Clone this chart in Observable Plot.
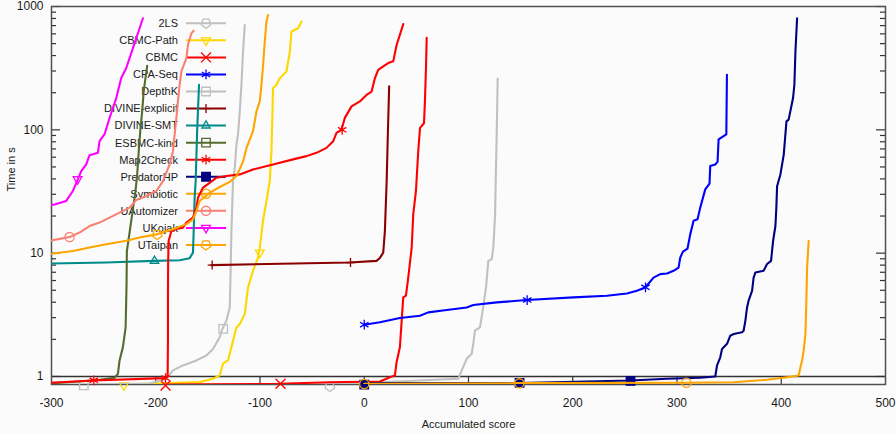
<!DOCTYPE html>
<html><head><meta charset="utf-8">
<script src="https://cdn.jsdelivr.net/npm/d3@7"></script>
<script src="https://cdn.jsdelivr.net/npm/@observablehq/plot@0.6"></script>
<style>body{margin:0;background:#fbfbfb} svg{display:block}</style>
</head><body><div id="chart"></div>
<script>
// ---------- data (accumulated score, CPU time in s) ----------
const seriesNames = ["2LS","CBMC-Path","CBMC","CPA-Seq","DepthK","DIVINE-explicit","DIVINE-SMT","ESBMC-kind","Map2Check","PredatorHP","Symbiotic","UAutomizer","UKojak","UTaipan"];
const seriesColors = ["#c0c0c0","#ffd700","#ff0000","#0000ff","#c0c0c0","#8b0000","#008b8b","#556b2f","#ff0000","#000080","#ffa500","#fa8072","#ff00ff","#ffa500"];

const xTicks = [-300,-200,-100,0,100,200,300,400,500];
const yTicks = [1,10,100,1000];
const yMinor = [2,3,4,5,6,7,8,9,20,30,40,50,60,70,80,90,200,300,400,500,600,700,800,900];

const s2LS = [[-33,0.86],[31,0.91],[90.2,0.958],[93.5,1.12],[98.3,1.39],[103.1,1.53],[104.6,1.84],[106.2,2.35],[111,2.5],[114.2,3.68],[116.8,5.27],[119,8.66],[122.3,8.95],[123.8,11.1],[125.5,20.6],[126.1,38.5],[127.1,97.4],[128,260]];
const sCBMCPath = [[-231,0.86],[-158,0.9],[-145,0.958],[-138.7,1.02],[-135.5,1.27],[-130.7,1.35],[-127.4,1.73],[-122.6,2.5],[-119.4,2.66],[-114.6,3.21],[-111.5,5.27],[-106.7,7.19],[-101.9,9.2],[-100.2,11.1],[-97.1,18.3],[-93.8,26.5],[-90.6,38.5],[-89,67],[-87.5,218],[-84.2,232],[-81,262],[-74.6,297],[-71.4,430],[-69.8,627],[-63.4,667],[-60.2,756]];
const sCBMC = [[-191,0.86],[-81,0.873],[-33,0.899],[15,0.911],[24.6,0.987],[29.4,1.02],[31,1.305],[34.2,1.725],[35.9,2.84],[37.4,4.38],[40,4.52],[42.2,6.34],[45.5,11.1],[47,20.6],[49.6,32],[51.8,67.2],[53.5,103.6],[57.3,113],[58.2,170],[59.2,315],[59.9,558]];
const sCPASeq = [[0,2.63],[15,2.75],[34.2,2.98],[53.4,3.11],[61.4,3.31],[79.1,3.46],[98.3,3.63],[104.6,3.8],[127.1,3.99],[155.9,4.17],[200.7,4.38],[232.7,4.52],[251.9,4.71],[261.5,4.95],[269.5,5.27],[277.5,6.34],[283.9,6.76],[290.4,6.84],[296.7,7.19],[301.5,7.64],[303.1,9.2],[305.7,10.3],[310.1,10.9],[312.7,14.2],[315.9,18.3],[319.7,18.8],[322.3,23.4],[327.1,32.9],[331.2,36.6],[331.9,50.9],[336.7,52.4],[338.9,55],[339.9,83.7],[347.3,91.8],[347.9,280]];
const sDepthK = [[-269.9,0.86],[-205.9,0.878],[-189.8,0.958],[-183.5,1.12],[-173.9,1.23],[-161,1.35],[-151.4,1.48],[-145.1,1.67],[-138.7,2.08],[-136.1,2.43],[-132.2,2.84],[-129,3.63],[-128.4,5.97],[-127.4,15.1],[-125.9,38.5],[-124.2,49.1],[-122.6,76],[-121.1,91.5],[-119.4,141],[-117.8,232],[-116.3,430],[-114.6,707]];
const sDIVINEexplicit = [[-146.6,8.0],[-80,8.2],[-13.8,8.4],[11.8,8.66],[15,9.15],[18.2,10.1],[19.8,15.1],[21.5,38.5],[22.7,97],[23.9,225]];
const sDIVINESMT = [[-300,8.24],[-247.5,8.4],[-202,8.66],[-177.1,8.77],[-167.5,9.1],[-164.3,10.1],[-163.6,15.1],[-162.7,28.1],[-161.7,38.5],[-160.3,97.4],[-158.5,232]];
const sESBMCkind = [[-300,0.883],[-269.9,0.916],[-253.9,0.94],[-239.5,0.976],[-236.3,1.05],[-234.7,1.35],[-231.5,1.73],[-228.9,2.5],[-228,5.62],[-227.7,10.4],[-225.1,14.7],[-222.6,20.7],[-219.4,32],[-217.8,43.6],[-216.3,67.4],[-214.6,104],[-213,142],[-211.5,207],[-209.8,265],[-208.2,330]];
const sMap2Check = [[-300,0.889],[-260.3,0.928],[-191.5,0.969],[-188.6,1.0],[-188.3,1.95],[-188.3,4.12],[-188.1,8.66],[-187.6,12.6],[-185,15.1],[-180.2,15.7],[-173.9,16.1],[-170.6,17.7],[-164.3,19.4],[-161,23.4],[-159.5,28.1],[-154.7,34],[-148.3,37.2],[-141.8,40.9],[-132.2,42.2],[-119.4,43.5],[-106.7,47.7],[-87.5,52.4],[-68.3,57.6],[-55.4,61.2],[-45.8,65.1],[-36.2,71.4],[-29.8,80.9],[-26.6,94.3],[-21.8,100.5],[-18.6,125],[-12.2,155],[-4.2,170],[2.2,192],[7,204],[10.2,262],[13.4,306],[18.2,327],[23,348],[27.8,359],[31.1,490],[34.2,590],[37.4,720]];
const sPredatorHP = [[0,0.883],[148.5,0.883],[255.1,0.928],[290.4,0.958],[322.3,0.976],[336.7,1.0],[338.4,1.23],[341.5,1.43],[343.2,1.67],[348,1.84],[351.1,2.14],[354.4,2.21],[362.4,2.28],[363.9,2.35],[365.6,2.84],[367.2,3.63],[368.7,4.12],[372,4.95],[373.5,6.34],[375.2,6.97],[383.1,7.19],[386.4,8.16],[390.2,8.66],[392.2,12.6],[394.4,16.6],[395.3,23.4],[396,34.9],[399.2,43.5],[402.4,63],[405,117],[407.1,121],[411.3,181],[412.6,232],[413.6,431],[415.2,803]];
const sSymbiotic = [[0,0.873],[148.5,0.883],[306,0.889],[354,0.899],[386.4,0.94],[405.6,0.987],[416.7,1.02],[418.4,1.19],[420,1.35],[421.5,1.62],[423.2,2.21],[424.1,4.12],[424.8,7.64],[426.3,12.6]];
const sUAutomizer = [[-300,12.7],[-282.7,13.5],[-273.1,14.7],[-263.5,16.6],[-253.9,17.7],[-244.3,19.4],[-234.7,21.3],[-225.1,23.4],[-218.7,27],[-209.1,29.1],[-199.4,31.9],[-193.1,38.4],[-186.7,52.4],[-183.5,67.1],[-181.9,91.6],[-180.2,124.8],[-178.7,170],[-177.1,232],[-175.4,298],[-170.6,381],[-169.1,489],[-165.8,607],[-163.6,635]];
const sUKojak = [[-300,24.6],[-297.1,24.8],[-285.9,26.5],[-279.5,31.9],[-274.7,39.6],[-271.5,46.3],[-266.7,52.4],[-263.5,62.3],[-255.5,65.1],[-253.9,80.9],[-249.1,92.1],[-244.3,124.8],[-237.9,181],[-233.1,263],[-228.3,317],[-221.9,459],[-215.5,666],[-212.3,803]];
const sUTaipan = [[-300,9.9],[-279.5,10.4],[-263.5,11.1],[-247.5,11.8],[-228.3,12.6],[-215.5,13.4],[-199.4,14.2],[-183.5,15.6],[-170.6,17.2],[-164.3,18.8],[-161,22],[-157.9,26.5],[-148.3,30.8],[-138.7,34.4],[-129,37.8],[-122.6,42.2],[-119.4,48],[-116.2,55.7],[-112.9,71.3],[-106.7,97.4],[-103.4,141],[-100.2,170],[-98.6,232],[-97,337],[-95.4,523],[-93.8,755],[-92.3,854]];

// marker positions
const m2LS = [[-33,0.83]];
const mCBMCPath = [[-230.6,0.846],[-100.2,10.1]];
const mCBMC = [[-190.6,0.846],[-80.3,0.873]];
const mCPASeq = [[0,2.63],[156.3,4.17],[269.8,5.28]];
const mDepthK = [[-269,0.846],[-135.3,2.43]];
const mDIVINEexplicit = [[-145.9,8.0],[-13.2,8.4]];
const mDIVINESMT = [[-201.2,8.66]];
const mESBMCkind = [];
const mMap2Check = [[-259.4,0.93],[-190.6,0.97],[-21.2,100]];
const mPredatorHP = [[0,0.86],[149,0.886],[255.4,0.92]];
const mSymbiotic = [[0,0.87],[148.8,0.88],[309,0.89]];
const mUAutomizer = [[-282.7,13.5]];
const mUKojak = [[-275,39.8]];
const mUTaipan = [[-198.6,14.2]];

// ---------- symbols ----------
const triDown = {draw(ctx, size){const r=Math.sqrt(size/Math.PI)*1.2, a=r*Math.sqrt(3)/2; ctx.moveTo(0,r); ctx.lineTo(-a,-r/2); ctx.lineTo(a,-r/2); ctx.closePath();}};
const triUp = {draw(ctx, size){const r=Math.sqrt(size/Math.PI)*1.2, a=r*Math.sqrt(3)/2; ctx.moveTo(0,-r); ctx.lineTo(-a,r/2); ctx.lineTo(a,r/2); ctx.closePath();}};
const pentaDown = {draw(ctx, size){const r=Math.sqrt(size/Math.PI)*1.1; for(let k=0;k<5;k++){const t=Math.PI/2+k*2*Math.PI/5, x=r*Math.cos(t), y=r*Math.sin(t); if(k) ctx.lineTo(x,y); else ctx.moveTo(x,y);} ctx.closePath();}};

const lines = [s2LS,sCBMCPath,sCBMC,sCPASeq,sDepthK,sDIVINEexplicit,sDIVINESMT,sESBMCkind,sMap2Check,sPredatorHP,sSymbiotic,sUAutomizer,sUKojak,sUTaipan];
const markers = [m2LS,mCBMCPath,mCBMC,mCPASeq,mDepthK,mDIVINEexplicit,mDIVINESMT,mESBMCkind,mMap2Check,mPredatorHP,mSymbiotic,mUAutomizer,mUKojak,mUTaipan];
const symbols = [pentaDown,triDown,d3.symbolTimes,d3.symbolAsterisk,d3.symbolSquare,d3.symbolPlus,triUp,d3.symbolSquare,d3.symbolAsterisk,d3.symbolSquare,d3.symbolCircle,d3.symbolCircle,triDown,pentaDown];
const filled = [false,false,false,false,false,false,false,false,false,true,false,false,false,false];
const radii = [4.6,4.2,4.6,4.6,4.8,3,4,4.8,4.6,4.8,4.6,4.6,4.2,4.6];

const series = seriesNames.map((name,i)=>({name, color: seriesColors[i], line: lines[i], marks: markers[i], symbol: symbols[i], filled: filled[i], r: radii[i]}));

const W = 896, H = 435, ML = 51, MR = 11, MT = 6, MB = 51;
const innerW = W-ML-MR, innerH = H-MT-MB;

const marks = [
  Plot.ruleY([1], {stroke:"#333", strokeWidth:1.5}),
  Plot.tickY(yTicks, {stroke:"#333", strokeWidth:1.2, insetRight: innerW-9}),
  Plot.tickY(yMinor, {stroke:"#333", strokeWidth:1.2, insetRight: innerW-5}),
  Plot.tickY(yTicks, {stroke:"#333", strokeWidth:1.2, insetLeft: innerW-9}),
  Plot.tickY(yMinor, {stroke:"#333", strokeWidth:1.2, insetLeft: innerW-5}),
  Plot.tickX(xTicks.slice(1,-1), {stroke:"#333", strokeWidth:1.2, insetTop: innerH-8}),
  Plot.frame({stroke:"#505050", strokeWidth:1.5}),
  Plot.axisX({ticks: xTicks, tickSize: 0, tickPadding: 14, label: null, tickFormat: d=>String(d)}),
  Plot.axisY({ticks: yTicks, tickSize: 0, tickPadding: 8, label: null, tickFormat: d=>String(d)}),
  Plot.text(["Accumulated score"], {frameAnchor:"bottom", dy: 43, fontSize: 11}),
  Plot.text(["Time in s"], {frameAnchor:"left", dx: -40, dy: -4, rotate: -90, fontSize: 11})
];
for (const s of series) {
  marks.push(Plot.line(s.line, {x: d=>d[0], y: d=>d[1], stroke: s.color, strokeWidth: 2.1, clip: true}));
  if (s.marks.length) marks.push(Plot.dot(s.marks, {x: d=>d[0], y: d=>d[1], symbol: s.symbol, r: s.r, stroke: s.color, strokeWidth: 1.3, fill: s.filled ? s.color : "none"}));
}

const chart = Plot.plot({
  width: W, height: H,
  marginLeft: ML, marginRight: MR, marginTop: MT, marginBottom: MB,
  x: {type:"linear", domain:[-300,500]},
  y: {type:"log", domain:[0.861,1000]},
  style: {fontFamily: "'Liberation Sans', Arial, sans-serif", fontSize: "12px", background: "#fbfbfb", color: "#1a1a1a"},
  marks
});

// legend (inside the plot, underneath the curves)
const lg = d3.select(chart).insert("g", "g").attr("font-size", 11).attr("font-family", "'Liberation Sans', Arial, sans-serif");
series.forEach((s,i)=>{
  const y = 23.3 + i*17.05;
  lg.append("text").attr("x",178).attr("y",y).attr("dy","0.35em").attr("text-anchor","end").attr("fill","#1a1a1a").text(s.name);
  lg.append("line").attr("x1",186).attr("x2",226).attr("y1",y).attr("y2",y).attr("stroke",s.color).attr("stroke-width",2);
  lg.append("path").attr("transform",`translate(206,${y})`).attr("d", d3.symbol().type(s.symbol).size(Math.PI*s.r*s.r)())
    .attr("stroke", s.color).attr("stroke-width",1.3).attr("fill", s.filled ? s.color : "none");
});

document.getElementById("chart").appendChild(chart);
</script>
</body></html>
